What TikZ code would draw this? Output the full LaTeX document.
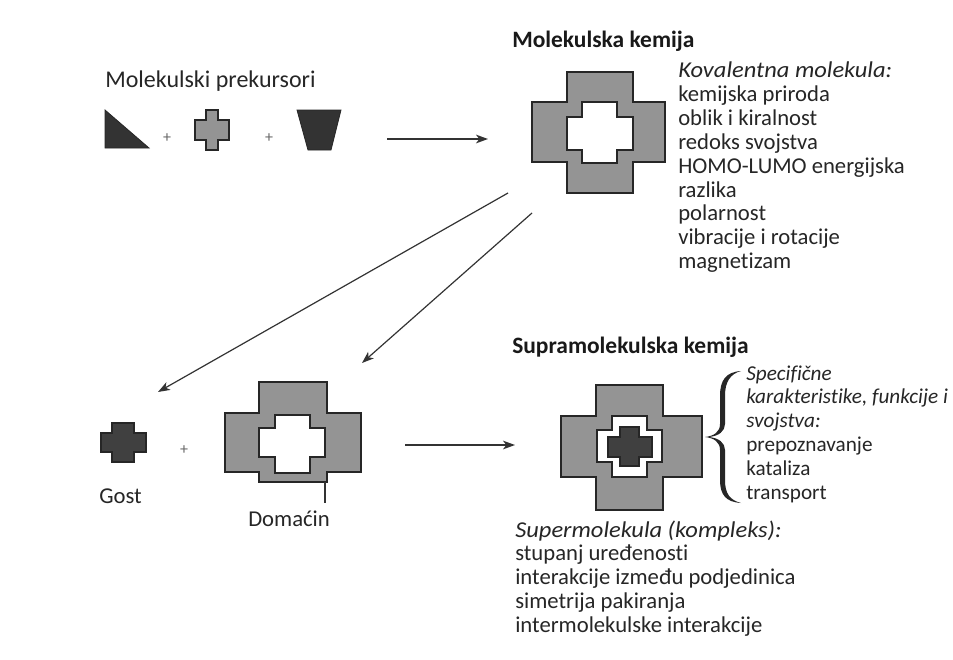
\documentclass[tikz,border=0pt]{standalone}
\usepackage{fontspec}
\setmainfont[Ligatures=NoCommon, ItalicFeatures={FakeStretch=1.08}]{Carlito}
\newfontfamily\plainfam[Ligatures=NoCommon]{Carlito}
\usetikzlibrary{arrows.meta}
\newcommand\crs[9]{\path[#1] (#3,#6) -- (#4,#6) -- (#4,#7) -- (#5,#7) -- (#5,#8) -- (#4,#8) -- (#4,#9) -- (#3,#9) -- (#3,#8) -- (#2,#8) -- (#2,#7) -- (#3,#7) -- cycle;}
\tikzset{
  txt/.style={anchor=base west, inner sep=0pt, font=\fontsize{17pt}{18pt}\selectfont, text=black!85},
  small/.style={anchor=base west, inner sep=0pt, font=\plainfam\fontsize{15.9pt}{18pt}\selectfont, text=black!85},
  ttl/.style={anchor=base west, inner sep=0pt, font=\fontsize{17.6pt}{19pt}\selectfont\bfseries, text=black!90},
  plus/.style={inner sep=0pt, font=\fontsize{12pt}{12pt}\selectfont, text=black!60},
  conn/.style={draw=black!80, line width=0.9pt, -{Stealth[length=9pt,width=6.5pt,inset=2.5pt]}},
  grayfill/.style={fill=black!42, draw=black!85, line width=0.9pt},
  darkfill/.style={fill=black!75, draw=black!85, line width=0.8pt},
  hole/.style={fill=white, draw=black!85, line width=0.9pt},
}
\begin{document}
\begin{tikzpicture}[x=0.75pt,y=-0.75pt]
\useasboundingbox (0,0) rectangle (953,660);
\clip (0,0) rectangle (953,660);
\fill[white] (0,0) rectangle (953,660);

% ---------- top row: precursors ----------
\node[txt, font=\fontsize{18pt}{19pt}\selectfont] (prek) at (105,88) {Molekulski prekursori};
\path[fill=black!80, draw=black!85, line width=0.6pt] (105,110) -- (105,148) -- (149,148) -- cycle;
\node[plus] (p1) at (167,138) {+};
\crs{grayfill}{195}{206}{218}{229}{110}{120}{140}{150}
\node[plus] (p2) at (269,138) {+};
\path[fill=black!80, draw=black!85, line width=0.6pt] (297,110) -- (341,110) -- (331,150) -- (308,150) -- cycle;

\coordinate (a1s) at (387,139);
\coordinate (a1e) at (488,139);
\draw[conn] (a1s) -- (a1e);

% ---------- molecule ----------
\node[ttl] (mk) at (512,48) {Molekulska kemija};
\crs{grayfill}{532}{567}{633}{665}{72}{102}{162}{193}
\crs{hole}{567}{582}{617}{633}{102}{117}{150}{163}

\node[txt] (k0) at (678,78) {\itshape Kovalentna molekula:};
\foreach \t [count=\i] in {kemijska priroda, oblik i kiralnost, redoks svojstva, HOMO-LUMO energijska, razlika, polarnost, vibracije i rotacije, magnetizam}
  \node[txt] (k\i) at (678,{78+23.8*\i}) {\t};

% ---------- arrows down ----------
\coordinate (d1s) at (508,193);
\coordinate (d1e) at (158,392);
\coordinate (d2s) at (532,213);
\coordinate (d2e) at (362,363);
\draw[conn] (d1s) -- (d1e);
\draw[conn] (d2s) -- (d2e);

% ---------- guest + host ----------
\crs{darkfill}{101}{112}{134}{146}{423}{433}{452}{462}
\node[plus] (p3) at (184,450) {+};
\node[txt] (gost) at (99,503) {Gost};

\crs{grayfill}{225}{259}{327}{361}{382}{413}{472}{482}
\crs{hole}{259}{275}{310}{325}{415}{428}{457}{473}
\coordinate (dl) at (325,482);
\node[txt] (dom) at (248,526) {Domaćin};
\draw[black!80, line width=0.8pt] (dl) -- (325,503);

\coordinate (a3s) at (405,445);
\coordinate (a3e) at (515,445);
\draw[conn] (a3s) -- (a3e);

% ---------- supramolecule ----------
\node[ttl] (smk) at (512,353) {Supramolekulska kemija};
\crs{grayfill}{561}{596}{663}{702}{385}{416}{477}{510}
\crs{hole}{597}{612}{647}{662}{416}{430}{462}{477}
\crs{darkfill}{608}{620}{639}{652}{427}{437}{457}{466}

% brace
\path[fill=black!85] (741,371) .. controls (726,372) and (720,380) .. (720,396) -- (720,424)
  .. controls (720,432) and (714,436) .. (705,437)
  .. controls (714,438) and (720,442) .. (720,450) -- (720,480)
  .. controls (720,495) and (726,502) .. (741,503)
  .. controls (730,500) and (725,494) .. (725,480) -- (725,450)
  .. controls (725,443) and (719,438) .. (709,437)
  .. controls (719,436) and (725,431) .. (725,424) -- (725,396)
  .. controls (725,382) and (730,374) .. (741,371) -- cycle;

\foreach \t [count=\i from 0] in {\itshape Specifične, {\itshape karakteristike, funkcije i}, \itshape svojstva:, prepoznavanje, kataliza, transport}
  \node[small] (s\i) at (746,{380+23.8*\i}) {\t};

\node[txt] (b0) at (515,537) {\itshape Supermolekula (kompleks):};
\foreach \t [count=\i] in {stupanj uređenosti, interakcije između podjedinica, simetrija pakiranja, intermolekulske interakcije}
  \node[txt] (b\i) at (515,{537+23.8*\i}) {\t};
\end{tikzpicture}
\end{document}
